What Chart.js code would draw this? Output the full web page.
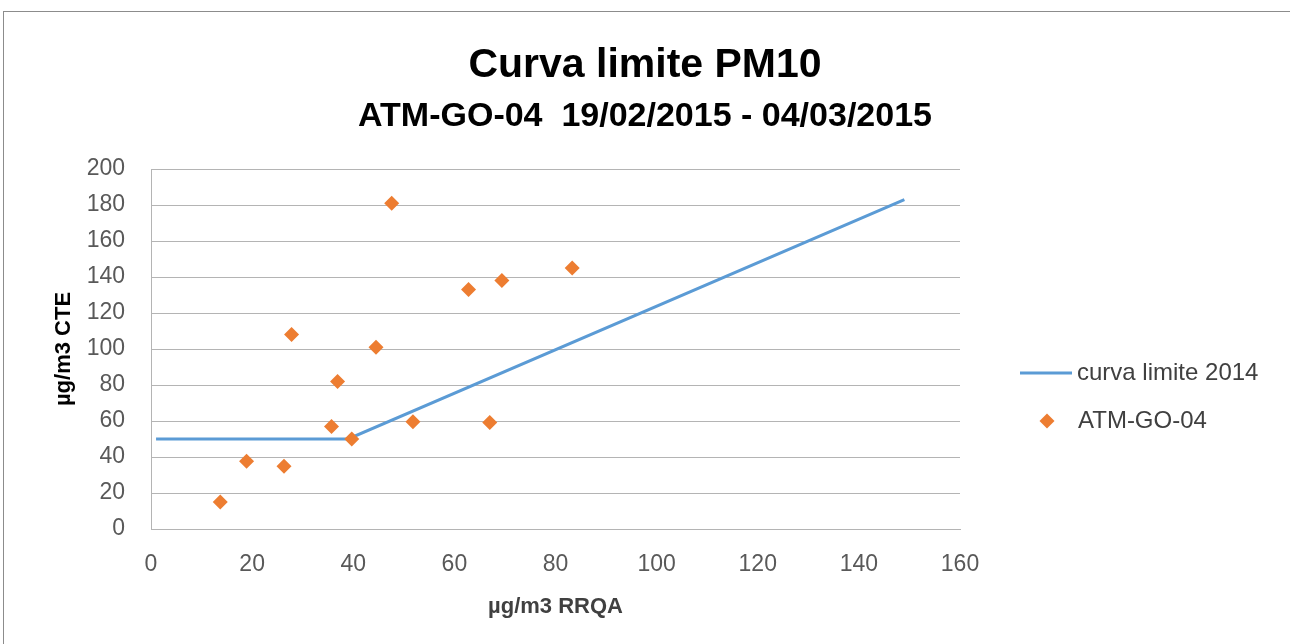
<!DOCTYPE html>
<html>
<head>
<meta charset="utf-8">
<script src="https://cdn.jsdelivr.net/npm/chart.js@4.4.1/dist/chart.umd.min.js"></script>
<style>
  html, body { margin: 0; padding: 0; background: #fff; }
  #frame { position: absolute; left: 3px; top: 11px; width: 1400px; height: 700px;
           border-left: 1px solid #8c8c8c; border-top: 1px solid #8c8c8c; }
  #wrap { position: absolute; left: 0; top: 0; width: 1290px; height: 644px; }
</style>
</head>
<body>
<div id="frame"></div>
<div id="wrap"><canvas id="myChart"></canvas></div>
<script>
// measured points (µg/m3 RRQA vs µg/m3 CTE)
const rrqa = [13.7, 18.9, 26.3, 27.8, 35.7, 36.9, 39.7, 44.5, 47.6, 51.8, 62.8, 67.0, 69.4, 83.3];
const cte = [15, 37.6, 34.8, 108, 57, 82, 50, 101, 181, 59.6, 133, 59.2, 138, 145];
// limit curve 2014
const limitX = [1, 39, 149];
const limitY = [50, 50, 183];
const xMax = 160;
const yMax = 200;
const tickStep = 20;

const FONT = "'Liberation Sans', Arial, sans-serif";
const blue = '#5B9BD5';
const orange = '#ED7D31';
const gridColor = '#b4b4b4';

// legend drawn at the right of the plot, like the Excel one
const sideLegend = {
    id: 'sideLegend',
    afterDraw(chart) {
        const ctx = chart.ctx;
        const x0 = chart.chartArea.right + 60;
        const line = chart.data.datasets[0];
        const pts = chart.data.datasets[1];
        ctx.save();
        ctx.font = '24px ' + FONT;
        ctx.fillStyle = '#404040';
        ctx.textBaseline = 'middle';
        // line item
        ctx.strokeStyle = line.borderColor;
        ctx.lineWidth = 3;
        ctx.beginPath();
        ctx.moveTo(x0, 373);
        ctx.lineTo(x0 + 52, 373);
        ctx.stroke();
        ctx.fillText(line.label, x0 + 57, 373);
        // marker item
        const cx = x0 + 27, cy = 421, r = 7.5;
        ctx.fillStyle = pts.backgroundColor;
        ctx.beginPath();
        ctx.moveTo(cx - r, cy);
        ctx.lineTo(cx, cy - r);
        ctx.lineTo(cx + r, cy);
        ctx.lineTo(cx, cy + r);
        ctx.closePath();
        ctx.fill();
        ctx.fillStyle = '#404040';
        ctx.fillText(pts.label, x0 + 58, 421);
        ctx.restore();
    }
};

const ctx = document.getElementById('myChart').getContext('2d');
const chart = new Chart(ctx, {
    type: 'scatter',
    data: {
        datasets: [{
            label: 'curva limite 2014',
            data: limitX.map((x, i) => ({ x: x, y: limitY[i] })),
            showLine: true,
            borderColor: blue,
            borderWidth: 3,
            pointRadius: 0,
            order: 2,
        }, {
            label: 'ATM-GO-04',
            data: rrqa.map((x, i) => ({ x: x, y: cte[i] })),
            backgroundColor: orange,
            borderColor: orange,
            borderWidth: 0,
            pointStyle: 'rectRot',
            pointRadius: 7.5,
            order: 1,
        }],
    },
    options: {
        responsive: true,
        maintainAspectRatio: false,
        animation: false,
        layout: { padding: 0 },
        plugins: {
            legend: { display: false },
            tooltip: { enabled: false },
            title: {
                display: true,
                text: 'Curva limite PM10',
                color: '#000',
                font: { family: FONT, size: 41, weight: 'bold' },
                padding: { top: 41, bottom: 0 },
            },
            subtitle: {
                display: true,
                text: 'ATM-GO-04  19/02/2015 - 04/03/2015',
                color: '#000',
                font: { family: FONT, size: 34, weight: 'bold' },
                padding: { top: 6, bottom: 32 },
            },
        },
        scales: {
            x: {
                type: 'linear',
                min: 0,
                max: xMax,
                grid: { display: false, drawTicks: false },
                border: { display: true, color: gridColor, width: 1 },
                ticks: {
                    stepSize: tickStep,
                    color: '#595959',
                    padding: 22,
                    font: { family: FONT, size: 23 },
                },
                title: {
                    display: true,
                    text: 'µg/m3 RRQA',
                    color: '#404040',
                    font: { family: FONT, size: 22, weight: 'bold' },
                    padding: { top: 0, bottom: 24 },
                },
                afterFit(scale) { scale.height = 115; },
            },
            y: {
                type: 'linear',
                min: 0,
                max: yMax,
                grid: { color: gridColor, lineWidth: 1, drawTicks: false },
                border: { display: true, color: gridColor, width: 1 },
                ticks: {
                    stepSize: tickStep,
                    color: '#595959',
                    padding: 26,
                    font: { family: FONT, size: 23 },
                },
                title: {
                    display: true,
                    text: 'µg/m3 CTE',
                    color: '#000',
                    font: { family: FONT, size: 22, weight: 'bold' },
                    padding: { top: 51, bottom: 0 },
                },
                afterFit(scale) { scale.width = 151; },
            },
            // empty box on the right that keeps room for the legend
            side: {
                type: 'linear',
                position: 'right',
                display: true,
                grid: { display: false, drawTicks: false },
                border: { display: false },
                ticks: { display: false },
                afterFit(scale) { scale.width = 330; },
            },
        },
    },
    plugins: [sideLegend],
});
</script>
</body>
</html>
